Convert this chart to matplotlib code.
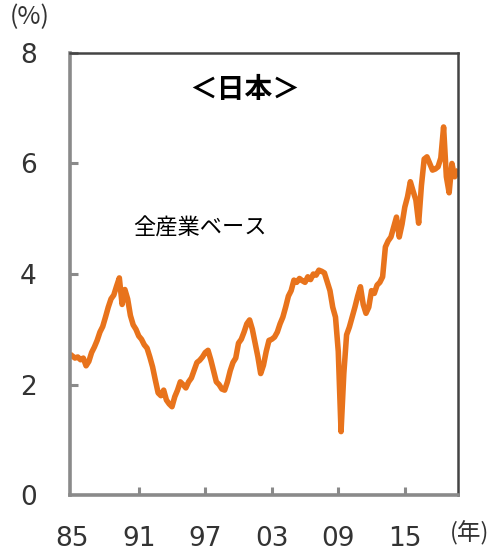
import matplotlib.pyplot as plt

# quarterly points, 1985Q1 - 2019Q4
years = list(range(1985, 2020))
rate = [
    2.52, 2.48, 2.50, 2.45,   # 1985
    2.48, 2.34, 2.42, 2.58,   # 1986
    2.68, 2.80, 2.95, 3.05,   # 1987
    3.22, 3.40, 3.55, 3.62,   # 1988
    3.78, 3.93, 3.45, 3.72,   # 1989
    3.55, 3.25, 3.08, 3.00,   # 1990
    2.88, 2.82, 2.72, 2.66,   # 1991
    2.50, 2.32, 2.08, 1.85,   # 1992
    1.80, 1.90, 1.72, 1.65,   # 1993
    1.60, 1.78, 1.90, 2.05,   # 1994
    2.00, 1.94, 2.05, 2.12,   # 1995
    2.26, 2.40, 2.44, 2.50,   # 1996
    2.58, 2.62, 2.45, 2.25,   # 1997
    2.05, 2.00, 1.92, 1.90,   # 1998
    2.05, 2.25, 2.40, 2.48,   # 1999
    2.75, 2.82, 2.95, 3.10,   # 2000
    3.17, 3.00, 2.75, 2.50,   # 2001
    2.20, 2.35, 2.60, 2.80,   # 2002
    2.82, 2.86, 2.95, 3.10,   # 2003
    3.22, 3.40, 3.60, 3.70,   # 2004
    3.89, 3.85, 3.92, 3.88,   # 2005
    3.85, 3.95, 3.90, 4.00,   # 2006
    3.98, 4.07, 4.05, 4.02,   # 2007
    3.86, 3.70, 3.40, 3.22,   # 2008
    2.60, 1.15, 2.20, 2.90,   # 2009
    3.04, 3.22, 3.40, 3.60,   # 2010
    3.77, 3.45, 3.29, 3.40,   # 2011
    3.70, 3.65, 3.80, 3.85,   # 2012
    3.95, 4.49, 4.60, 4.67,   # 2013
    4.85, 5.03, 4.67, 4.90,   # 2014
    5.21, 5.40, 5.67, 5.50,   # 2015
    5.34, 4.92, 5.60, 6.08,   # 2016
    6.12, 6.00, 5.88, 5.90,   # 2017
    5.94, 6.10, 6.66, 5.76,   # 2018
    5.47, 6.00, 5.76, 5.85,   # 2019
]
t = [y + q / 4 for y in years for q in range(4)]

tick_years = [1985, 1991, 1997, 2003, 2009, 2015]
tick_labels = ['85', '91', '97', '03', '09', '15']

jp = ['Noto Sans CJK JP', 'DejaVu Sans']

fig = plt.figure(figsize=(5, 5.57), dpi=100)
ax = fig.add_axes([0.14, 0.111, 0.776, 0.794])

ax.plot(t, rate, color='#E8731C', lw=4.0, solid_joinstyle='round')

ax.set_xlim(1984.8, 2019.8)
ax.set_ylim(0, 8)
ax.set_yticks([0, 2, 4, 6, 8])
ax.set_xticks(tick_years)
ax.set_xticklabels(tick_labels)

for s in ['left', 'bottom']:
    ax.spines[s].set_color('#8a8a8a')
    ax.spines[s].set_linewidth(2.6)
for s in ['top', 'right']:
    ax.spines[s].set_color('#444444')
    ax.spines[s].set_linewidth(1.8)

ax.tick_params(axis='both', direction='in', length=6, width=2.2, color='#8a8a8a',
               labelsize=19, labelcolor='#333333')
ax.tick_params(axis='y', pad=24)
ax.tick_params(axis='x', pad=22)
# the 85 tick sits on the left frame, no mark there
ax.xaxis.get_major_ticks()[0].tick1line.set_visible(False)
ax.yaxis.get_major_ticks()[0].tick1line.set_visible(False)

ax.text(0.451, 0.916, '＜日本＞', transform=ax.transAxes, ha='center', va='center',
        fontsize=20, fontweight='bold', family=jp)
ax.text(0.335, 0.604, '全産業ベース', transform=ax.transAxes, ha='center', va='center',
        fontsize=16, family=jp)

fig.text(30 / 500, 1 - 17 / 557, '(%)', ha='center', va='center', fontsize=18,
         family=jp, color='#333333')
fig.text(470 / 500, 1 - 533 / 557, '(年)', ha='center', va='center', fontsize=17,
         family=jp, color='#333333')

fig.savefig('out.png', dpi=100)
